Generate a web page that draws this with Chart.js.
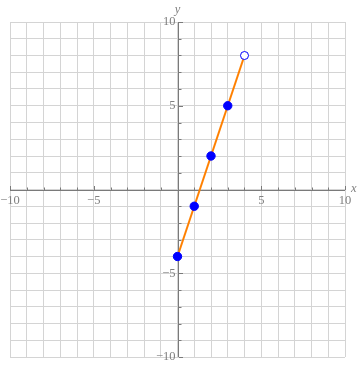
<!DOCTYPE html>
<html><head><meta charset="utf-8">
<script src="https://cdn.jsdelivr.net/npm/chart.js@4/dist/chart.umd.min.js"></script>
<style>html,body{margin:0;padding:0;background:#fff}#wrap{width:360px;height:365px}</style>
</head><body><div id="wrap"><canvas id="c" width="360" height="365"></canvas></div>
<script>
const lineX = [0, 4];
const lineY = [-4, 8];
const pointX = [0, 1, 2, 3];
const pointY = [-4, -1, 2, 5];
const openX = [4];
const openY = [8];
const xTickLabels = [-10, -5, 5, 10];
const yTickLabels = [-10, -5, 5, 10];
const xRange = [-10, 10];
const yRange = [-10, 10];
const xAxisTitle = 'x';
const yAxisTitle = 'y';

const zip = (xs, ys) => xs.map((x, i) => ({x: x, y: ys[i]}));
const fmt = v => (v < 0 ? '\u2212' + Math.abs(v) : String(v));

const axesPlugin = {
  id: 'centerAxes',
  beforeDatasetsDraw(chart) {
    const ctx = chart.ctx;
    const xs = chart.scales.x, ys = chart.scales.y;
    const x0 = xs.getPixelForValue(0), y0 = ys.getPixelForValue(0);
    const a = chart.chartArea;
    ctx.save();
    ctx.strokeStyle = '#7a7a7a';
    ctx.lineWidth = 1;
    ctx.beginPath();
    ctx.moveTo(a.left, Math.round(y0) + 0.5); ctx.lineTo(a.right, Math.round(y0) + 0.5);
    ctx.moveTo(Math.round(x0) + 0.5, a.top); ctx.lineTo(Math.round(x0) + 0.5, a.bottom);
    for (let v = xRange[0]; v <= xRange[1]; v++) {
      if (v === 0) continue;
      const px = Math.round(xs.getPixelForValue(v)) + 0.5;
      const len = v % 5 === 0 ? 4 : 2.5;
      ctx.moveTo(px, Math.round(y0)); ctx.lineTo(px, Math.round(y0) - len);
    }
    for (let v = yRange[0]; v <= yRange[1]; v++) {
      if (v === 0) continue;
      const py = Math.round(ys.getPixelForValue(v)) + 0.5;
      const len = v % 5 === 0 ? 4 : 2.5;
      ctx.moveTo(Math.round(x0) + 1, py); ctx.lineTo(Math.round(x0) + 1 + len, py);
    }
    ctx.stroke();
    ctx.fillStyle = '#808080';
    ctx.font = '12.5px "Liberation Serif", serif';
    ctx.textAlign = 'center';
    ctx.textBaseline = 'top';
    xTickLabels.forEach(v => {
      ctx.fillText(fmt(v), xs.getPixelForValue(v), y0 + 5);
    });
    ctx.textAlign = 'right';
    ctx.textBaseline = 'middle';
    yTickLabels.forEach(v => {
      ctx.fillText(fmt(v), x0 - 2, ys.getPixelForValue(v));
    });
    ctx.font = 'italic 12.5px "Liberation Serif", serif';
    ctx.textAlign = 'left';
    ctx.textBaseline = 'middle';
    ctx.fillText(xAxisTitle, a.right + 6, y0 - 1);
    ctx.textAlign = 'center';
    ctx.textBaseline = 'bottom';
    ctx.fillText(yAxisTitle, x0, a.top - 6);
    ctx.restore();
  }
};

new Chart(document.getElementById('c'), {
  type: 'scatter',
  data: {
    datasets: [
      {data: zip(lineX, lineY), showLine: true, borderColor: '#ff8000', borderWidth: 2, pointRadius: 0, pointHoverRadius: 0, order: 3},
      {data: zip(pointX, pointY), backgroundColor: '#0000ff', borderColor: '#0000ff', pointRadius: 4.2, borderWidth: 1, order: 2},
      {data: zip(openX, openY), backgroundColor: '#ffffff', borderColor: '#0000ff', pointRadius: 4, borderWidth: 1, order: 1}
    ]
  },
  options: {
    responsive: false,
    animation: false,
    events: [],
    layout: {padding: {left: 10, right: 15, top: 22, bottom: 8}},
    plugins: {legend: {display: false}, tooltip: {enabled: false}},
    scales: {
      x: {type: 'linear', min: xRange[0], max: xRange[1], border: {display: false},
          ticks: {display: false, stepSize: 1}, grid: {color: '#d4d4d4', drawTicks: false, lineWidth: 1}},
      y: {type: 'linear', min: yRange[0], max: yRange[1], border: {display: false},
          ticks: {display: false, stepSize: 1}, grid: {color: '#d4d4d4', drawTicks: false, lineWidth: 1}}
    }
  },
  plugins: [axesPlugin]
});
</script>
</body></html>
